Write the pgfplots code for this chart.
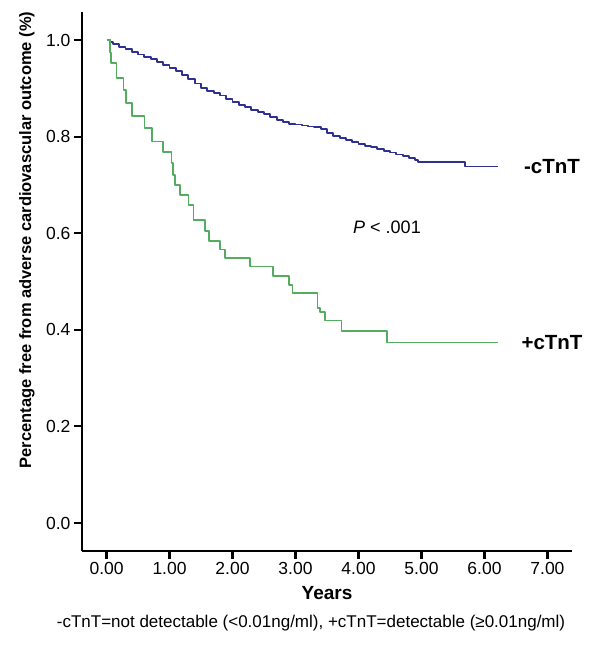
\documentclass[border=0pt]{standalone}
\usepackage{fontspec}
\setmainfont{Liberation Sans}
\usepackage{pgfplots}
\pgfplotsset{compat=1.18}
\definecolor{kmblue}{RGB}{46,49,146}
\definecolor{kmgreen}{RGB}{84,172,96}
\pgfplotstableread{
t s
0.00 1.000
0.05 0.996
0.10 0.992
0.20 0.986
0.30 0.981
0.40 0.975
0.50 0.970
0.60 0.965
0.70 0.960
0.80 0.955
0.90 0.949
1.00 0.942
1.10 0.935
1.20 0.927
1.30 0.919
1.40 0.910
1.50 0.900
1.60 0.895
1.70 0.890
1.80 0.885
1.90 0.878
2.00 0.872
2.10 0.866
2.20 0.861
2.30 0.856
2.40 0.851
2.50 0.846
2.60 0.840
2.70 0.835
2.80 0.831
2.90 0.827
3.00 0.825
3.10 0.823
3.20 0.821
3.30 0.819
3.40 0.816
3.50 0.808
3.60 0.801
3.70 0.797
3.80 0.793
3.90 0.789
4.00 0.785
4.10 0.781
4.20 0.778
4.30 0.775
4.40 0.771
4.50 0.767
4.60 0.763
4.70 0.759
4.80 0.755
4.90 0.751
4.95 0.747
5.69 0.738
6.21 0.738
}\negdata
\pgfplotstableread{
t s
0.000 1.000
0.050 0.974
0.066 0.952
0.160 0.921
0.270 0.896
0.310 0.870
0.400 0.842
0.600 0.818
0.720 0.790
0.900 0.768
1.030 0.745
1.060 0.720
1.090 0.700
1.170 0.679
1.300 0.658
1.380 0.628
1.560 0.605
1.630 0.584
1.800 0.566
1.880 0.548
2.280 0.531
2.640 0.511
2.900 0.493
2.950 0.476
3.350 0.445
3.390 0.437
3.470 0.419
3.730 0.398
4.450 0.374
6.210 0.374
}\posdata
\begin{document}
\begin{tikzpicture}[x=1pt,y=1pt]
\useasboundingbox (0,0) rectangle (601,648);
\begin{axis}[
  at={(82pt,97pt)}, anchor=south west,
  scale only axis, width=490pt, height=539pt,
  xmin=-0.39, xmax=7.39, ymin=-0.058, ymax=1.058,
  axis x line=bottom, axis y line=left,
  axis line style={-, line width=2.2pt, black},
  xtick={0,1,2,3,4,5,6,7},
  xticklabels={0.00,1.00,2.00,3.00,4.00,5.00,6.00,7.00},
  ytick={0,0.2,0.4,0.6,0.8,1.0},
  yticklabels={0.0,0.2,0.4,0.6,0.8,1.0},
  tick label style={font=\fontsize{17.5}{20}\selectfont},
  tick align=outside, major tick length=8pt,
  tick style={line width=2.2pt, black},
  clip=false,
]
\addplot[const plot, kmblue, line width=1.9pt, line join=round] table[x=t,y=s] {\negdata};
\addplot[const plot, kmgreen, line width=1.7pt, line join=round] table[x=t,y=s] {\posdata};
\end{axis}
\node[font=\bfseries\fontsize{16.5}{19}\selectfont, rotate=90] at (27,408) {Percentage free from adverse cardiovascular outcome (\%)};
\node[font=\bfseries\fontsize{20.5}{22}\selectfont] at (552,481) {-cTnT};
\node[font=\bfseries\fontsize{20.5}{22}\selectfont] at (552,305) {+cTnT};
\node[font=\fontsize{18}{20}\selectfont] at (387,421) {\textit{P} < .001};
\node[font=\bfseries\fontsize{19}{21}\selectfont] at (327,55) {Years};
\node[font=\fontsize{17}{20}\selectfont] at (311,25) {-cTnT=not detectable (<0.01ng/ml), +cTnT=detectable (≥0.01ng/ml)};
\end{tikzpicture}
\end{document}
